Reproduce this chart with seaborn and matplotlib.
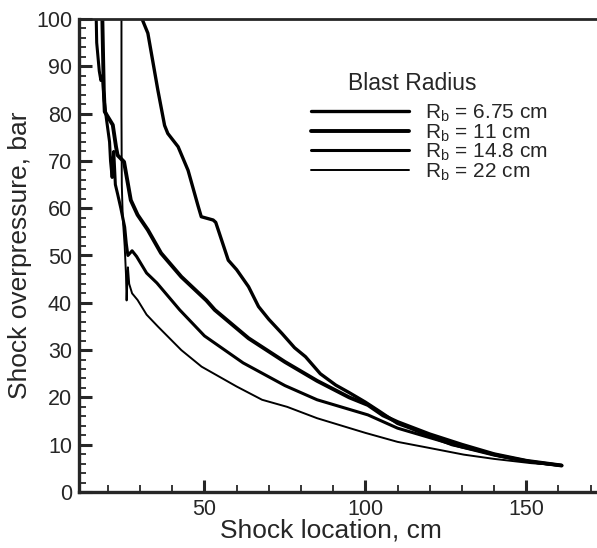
import numpy as np
import pandas as pd
import matplotlib
matplotlib.use("Agg")
import matplotlib.pyplot as plt
import seaborn as sns
from matplotlib.ticker import MultipleLocator

# curves (shock location cm, overpressure bar)
x_675 = [29.8, 30.3, 32.4, 35.5, 37.6, 38.6, 41.8, 44.9, 48.0, 49.0, 52.7, 53.5, 57.4, 60.0,
         63.7, 66.8, 70.0, 74.1, 78.0, 81.4, 86.0, 90.8, 95.0, 100.0, 104.5, 110.0, 114.0,
         120.0, 127.0, 135.0, 142.0, 151.5, 161.0]
y_675 = [104.0, 100.5, 97.0, 85.0, 77.5, 75.8, 73.0, 68.0, 60.5, 58.2, 57.5, 57.0, 49.0, 47.0,
         43.4, 39.2, 36.5, 33.5, 30.5, 28.6, 25.0, 22.6, 21.0, 19.0, 17.0, 14.5, 13.5,
         11.8, 10.0, 8.8, 7.6, 6.4, 5.6]

x_11 = [18.2, 18.4, 18.7, 19.0, 21.5, 22.5, 23.0, 25.0, 26.5, 27.1, 29.2, 32.4, 36.5, 42.8,
        50.6, 53.2, 63.7, 75.0, 85.0, 95.0, 100.8, 105.5, 110.0, 120.0, 130.0, 140.0, 150.0, 161.0]
y_11 = [102.0, 95.0, 85.0, 80.4, 77.6, 73.0, 71.2, 69.8, 64.0, 61.7, 58.6, 55.4, 50.5, 45.5,
        40.5, 38.5, 32.5, 27.5, 23.5, 20.0, 18.4, 16.2, 14.8, 12.2, 10.0, 8.0, 6.6, 5.6]

x_148 = [16.3, 16.5, 17.3, 17.8, 18.3, 18.8, 19.5, 20.5, 20.8, 21.3, 21.8, 22.3, 23.0, 24.0,
         25.2, 25.7, 26.2, 27.5, 28.9, 32.0, 35.2, 42.3, 50.0, 62.0, 75.0, 85.0, 100.8, 110.0,
         120.0, 130.0, 140.0, 150.0, 161.0]
y_148 = [102.0, 95.0, 89.0, 87.0, 88.0, 83.0, 79.0, 74.0, 70.0, 66.5, 72.0, 65.0, 63.0, 60.0,
         56.0, 52.5, 50.0, 51.0, 49.8, 46.3, 44.2, 38.5, 33.0, 27.3, 22.5, 19.5, 16.3, 13.5,
         11.5, 9.5, 7.8, 6.5, 5.6]

x_22 = [24.2, 24.2, 24.3, 24.6, 25.2, 25.6, 25.8, 26.2, 26.6, 27.5, 29.2, 32.0, 35.5, 42.8,
        49.1, 60.0, 67.9, 75.7, 85.0, 100.0, 110.0, 120.0, 130.6, 140.0, 151.5, 161.0]
y_22 = [102.0, 80.0, 65.0, 58.0, 52.0, 46.0, 40.5, 47.5, 44.0, 42.0, 40.6, 37.5, 35.0, 30.0,
        26.5, 22.3, 19.5, 18.0, 15.6, 12.5, 10.6, 9.3, 7.9, 7.0, 6.1, 5.6]

labels = ["R$_\\mathregular{b}$ = 6.75 cm", "R$_\\mathregular{b}$ = 11 cm",
          "R$_\\mathregular{b}$ = 14.8 cm", "R$_\\mathregular{b}$ = 22 cm"]

sns.set_style("ticks")
plt.rcParams['font.family'] = ['Liberation Sans', 'DejaVu Sans']
plt.rcParams['mathtext.fontset'] = 'custom'
plt.rcParams['mathtext.rm'] = 'Liberation Sans'

fig = plt.figure(figsize=(5.97, 5.48), dpi=100)
ax = fig.add_axes([79 / 597, 56 / 548, 518 / 597, 473 / 548])

curves = [(x_675, y_675, 2.4), (x_11, y_11, 2.8), (x_148, y_148, 2.2), (x_22, y_22, 1.4)]
for (xs, ys, lw), lab in zip(curves, labels):
    df = pd.DataFrame({"x": xs, "y": ys})
    sns.lineplot(data=df, x="x", y="y", sort=False, estimator=None, color="black",
                 linewidth=lw, label=lab, ax=ax)

ax.set_xlim(11, 172)
ax.set_ylim(0, 100)
ax.xaxis.set_major_locator(MultipleLocator(50))
ax.xaxis.set_minor_locator(MultipleLocator(10))
ax.yaxis.set_major_locator(MultipleLocator(10))
ax.yaxis.set_minor_locator(MultipleLocator(2))
ax.tick_params(which="major", direction="in", length=9, width=2.2, labelsize=15.5, pad=5)
ax.tick_params(which="minor", direction="in", length=5, width=1.3)
for s in ["left", "bottom"]:
    ax.spines[s].set_linewidth(2.4)
ax.spines["top"].set_linewidth(2.0)
ax.spines["right"].set_visible(False)

ax.set_xlabel("Shock location, cm", fontsize=19)
ax.xaxis.set_label_coords(0.486, -0.056)
ax.set_ylabel("Shock overpressure, bar", fontsize=19, labelpad=3)

leg = ax.legend(loc="upper left", bbox_to_anchor=(296 / 597, 1 - 88 / 548),
                bbox_transform=fig.transFigure, frameon=False,
                fontsize=15, handlelength=4.7, handletextpad=0.8,
                labelspacing=-0.1, borderpad=0.2)
fig.text(412 / 597, 1 - 84 / 548, "Blast Radius", fontsize=16.5, ha="center", va="center")

fig.savefig("out.png", dpi=100)
